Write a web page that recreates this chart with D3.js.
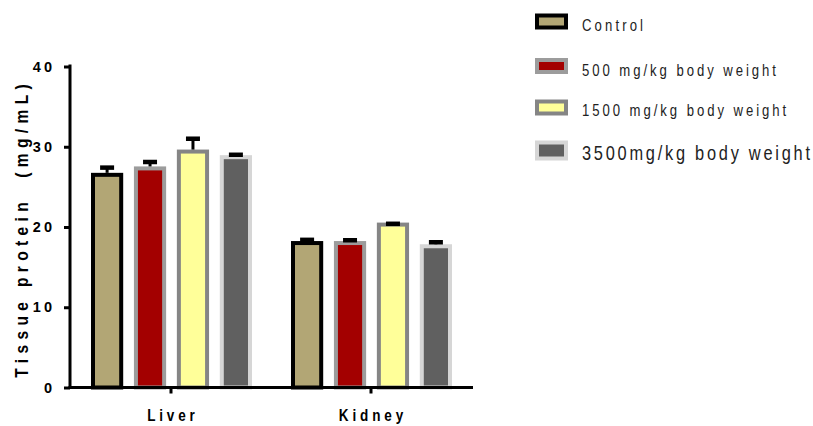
<!DOCTYPE html>
<html>
<head>
<meta charset="utf-8">
<script src="https://cdn.jsdelivr.net/npm/d3@7"></script>
<style>
  body { margin: 0; background: #fff; }
  text { font-family: "Liberation Sans", Arial, sans-serif; }
</style>
</head>
<body>
<script>
// data
var organs = ["Liver", "Kidney"]
var groups = ["Control", "500 mg/kg body weight", "1500 mg/kg body weight", "3500mg/kg body weight"]
var liverMean = [26.5, 27.3, 29.4, 28.7]
var liverErr = [0.9, 0.8, 1.6, 0.3]
var kidneyMean = [18.0, 18.0, 20.3, 17.6]
var kidneyErr = [0.4, 0.35, 0.1, 0.5]
var yTicks = [0, 10, 20, 30, 40]

var fills = ["#b2a675", "#a30000", "#ffff99", "#606060"]
var strokes = ["#000000", "#9c9c9c", "#858585", "#d6d6d6"]
var narrow = 0.82 // the original font is a condensed one

var rows = []
organs.forEach(function(o, i) {
  var m = i == 0 ? liverMean : kidneyMean
  var e = i == 0 ? liverErr : kidneyErr
  groups.forEach(function(g, j) {
    rows.push({organ: o, group: g, idx: j, mean: m[j], err: e[j]})
  })
})

var svg = d3.select("body").append("svg")
    .attr("width", 813)
    .attr("height", 426)

// scales
var y = d3.scaleLinear().domain([0, 40]).range([387.5, 66.5])
var x0 = d3.scaleBand().domain(organs).range([71, 471])
var x1 = d3.scaleBand().domain(groups).range([20, 181]).paddingInner(0.25)

var sw = 4 // bar border

// bars
var g = svg.append("g")
g.selectAll("rect.bar")
  .data(rows)
  .enter()
  .append("rect")
    .attr("class", "bar")
    .attr("x", d => x0(d.organ) + x1(d.group) + sw / 2)
    .attr("y", d => y(d.mean))
    .attr("width", x1.bandwidth() - sw)
    .attr("height", d => y(0) - y(d.mean))
    .style("fill", d => fills[d.idx])
    .style("stroke", d => strokes[d.idx])
    .style("stroke-width", sw)

// error bars (upper only)
var cx = d => x0(d.organ) + x1(d.group) + x1.bandwidth() / 2
g.selectAll("line.stem")
  .data(rows)
  .enter()
  .append("line")
    .attr("class", "stem")
    .attr("x1", cx).attr("x2", cx)
    .attr("y1", d => y(d.mean) - sw / 2)
    .attr("y2", d => y(d.mean + d.err))
    .style("stroke", "#000")
    .style("stroke-width", 3)
g.selectAll("line.cap")
  .data(rows)
  .enter()
  .append("line")
    .attr("class", "cap")
    .attr("x1", d => cx(d) - 7).attr("x2", d => cx(d) + 7)
    .attr("y1", d => y(d.mean + d.err))
    .attr("y2", d => y(d.mean + d.err))
    .style("stroke", "#000")
    .style("stroke-width", 4.5)

// axes
var yAxis = svg.append("g")
    .attr("transform", "translate(70,0)")
    .call(d3.axisLeft(y).tickValues(yTicks).tickSize(6).tickSizeOuter(0).tickPadding(9))
var xAxis = svg.append("g")
    .attr("transform", "translate(0," + y(0) + ")")
    .call(d3.axisBottom(x0).tickSize(6).tickSizeOuter(0))

svg.selectAll(".domain, .tick line")
    .style("stroke", "#000")
    .style("stroke-width", 3)
xAxis.select(".domain").attr("d", "M68.5,0H473")
yAxis.select(".domain").attr("d", "M0,64.5V389")

yAxis.selectAll("text")
    .attr("font-size", "14.5px")
    .attr("font-weight", "bold")
    .attr("letter-spacing", "3px")
    .attr("fill", "#000")
xAxis.selectAll("text")
    .attr("y", 33.5)
    .attr("dy", null)
    .attr("transform", "scale(" + narrow + ",1)")
    .attr("font-size", "16.5px")
    .attr("font-weight", "bold")
    .attr("letter-spacing", "4.7px")
    .attr("dx", "2.35px")
    .attr("fill", "#000")

// y title
svg.append("text")
    .attr("transform", "translate(28,231) rotate(-90) scale(" + narrow + ",1)")
    .attr("text-anchor", "middle")
    .attr("dx", "3.25px")
    .attr("font-size", "19px")
    .attr("font-weight", "bold")
    .attr("letter-spacing", "6.5px")
    .attr("fill", "#000")
    .attr("xml:space", "preserve")
    .text("Tissue protein  (mg/mL)")

// legend
var legBase = [30.5, 75.5, 116, 160]
var legMid = [21.5, 66, 107.5, 150.5]
var legH = [16, 16, 16, 20]
var legSize = [16, 16, 16, 20]
var legSpace = [3.8, 3.6, 3.6, 3.35]
var leg = svg.append("g").attr("class", "legend")
groups.forEach(function(name, i) {
  leg.append("rect")
    .attr("x", 537).attr("y", legMid[i] - legH[i] / 2 + 2)
    .attr("width", 29).attr("height", legH[i] - 4)
    .style("fill", fills[i])
    .style("stroke", strokes[i])
    .style("stroke-width", 4)
  leg.append("text")
    .attr("transform", "translate(582," + legBase[i] + ") scale(" + narrow + ",1)")
    .attr("font-size", legSize[i] + "px")
    .attr("letter-spacing", legSpace[i] + "px")
    .attr("fill", "#222")
    .text(name)
})
</script>
</body>
</html>
